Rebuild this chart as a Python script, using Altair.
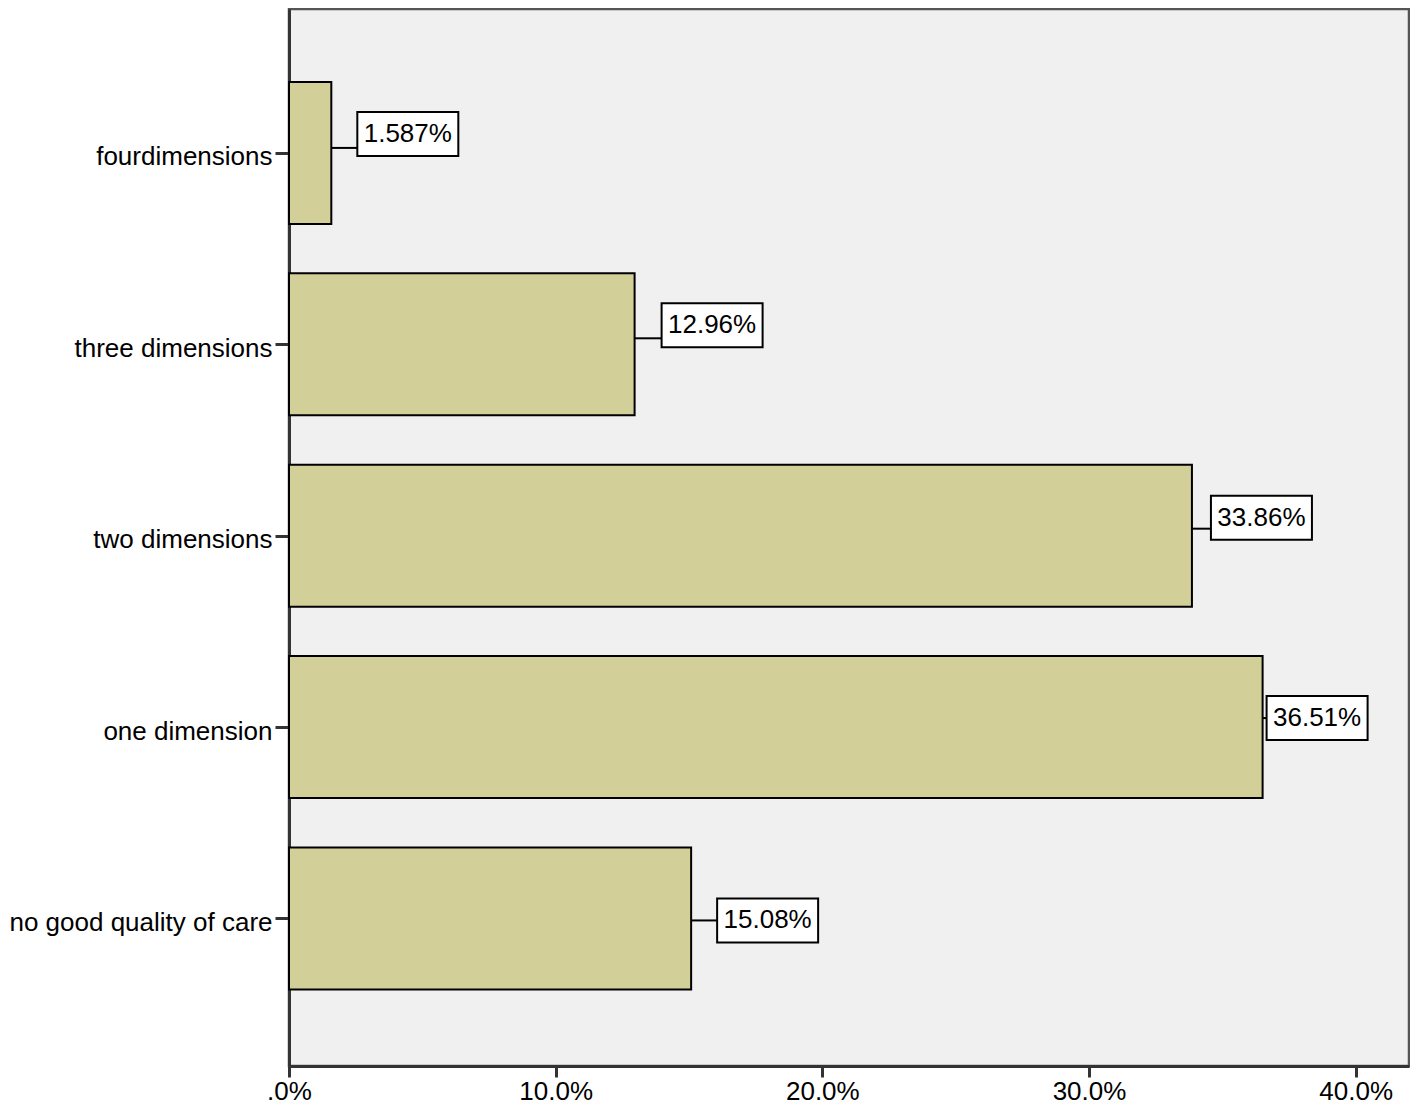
import altair as alt
import pandas as pd

# ---- data ----
categories = ["fourdimensions", "three dimensions", "two dimensions",
              "one dimension", "no good quality of care"]
values = [1.587, 12.96, 33.86, 36.51, 15.08]
labels = ["1.587%", "12.96%", "33.86%", "36.51%", "15.08%"]

# ---- label-box placement nudges (pixels, relative to bar end / bar centre) ----
box_gap_px = [26, 27, 19, 4, 26]
box_dy_px = [-19, -19, -18, -9, 2]
conn_dy_px = [-5, -6, -7, -9, 2]

# ---- layout ----
W, H = 1120, 1057
X_MAX = 42.0
Y_MIN, Y_MAX = -0.752, 4.771
BAR_HALF = 0.371
BOX_W, BOX_H = 101, 44
FONT = "Liberation Sans"

pxx = W / X_MAX
pxy = H / (Y_MAX - Y_MIN)

idx = list(range(len(categories)))
df = pd.DataFrame({"idx": idx, "cat": categories, "value": values, "label": labels,
                   "gap": box_gap_px, "bdy": box_dy_px, "cdy": conn_dy_px})
df["zero"] = 0.0
df["y0"] = df["idx"] - BAR_HALF
df["y1"] = df["idx"] + BAR_HALF
df["bx0"] = df["value"] + df["gap"] / pxx
df["bx1"] = df["bx0"] + BOX_W / pxx
df["bxc"] = (df["bx0"] + df["bx1"]) / 2
df["byc"] = df["idx"] + df["bdy"] / pxy
df["by0"] = df["byc"] - (BOX_H / 2) / pxy
df["by1"] = df["byc"] + (BOX_H / 2) / pxy
df["cy"] = df["idx"] + df["cdy"] / pxy

cat_arr = "[" + ",".join("'" + c + "'" for c in categories) + "]"

xscale = alt.Scale(domain=[0, X_MAX], nice=False, zero=True)
yscale = alt.Scale(domain=[Y_MIN, Y_MAX], reverse=True, nice=False, zero=False)

xaxis = alt.Axis(values=[0, 10, 20, 30, 40], title=None, grid=False,
                 labelExpr="datum.value == 0 ? '.0%' : format(datum.value, '.1f') + '%'",
                 labelFont=FONT, labelFontSize=26, labelColor="black",
                 tickSize=11, tickWidth=3, tickColor="#333", labelPadding=1,
                 domainColor="#333", domainWidth=3, labelFlush=False)
yaxis = alt.Axis(values=idx, title=None, grid=False,
                 labelExpr=cat_arr + "[datum.value]", labelLimit=0,
                 labelFont=FONT, labelFontSize=26, labelColor="black",
                 labelOffset=4,
                 tickSize=14, tickWidth=3, tickColor="#333", labelPadding=3,
                 domainColor="#333", domainWidth=3)

base = alt.Chart(df)

bars = base.mark_bar(color="#d3cf98", stroke="black", strokeWidth=2).encode(
    x=alt.X("zero:Q", scale=xscale, axis=xaxis),
    x2="value:Q",
    y=alt.Y("y0:Q", scale=yscale, axis=yaxis),
    y2="y1:Q",
)

conn = base.mark_rule(color="black", strokeWidth=2).encode(
    x="value:Q", x2="bx0:Q", y="cy:Q",
)

boxes = base.mark_rect(fill="white", stroke="black", strokeWidth=2).encode(
    x="bx0:Q", x2="bx1:Q", y="by0:Q", y2="by1:Q",
)

text = base.mark_text(font=FONT, fontSize=26, color="black",
                      align="center", baseline="middle").encode(
    x="bxc:Q", y="byc:Q", text="label:N",
)

chart = alt.layer(bars, conn, boxes, text).properties(
    width=W, height=H,
    background="white",
    autosize=alt.AutoSizeParams(type="none"),
    padding={"left": 281, "top": 1, "right": 1, "bottom": 40},
).configure_view(
    fill="#f0f0f0", stroke="#555", strokeWidth=2.5,
)

chart.save("out.html", embed_options={"renderer": "svg", "actions": False})
